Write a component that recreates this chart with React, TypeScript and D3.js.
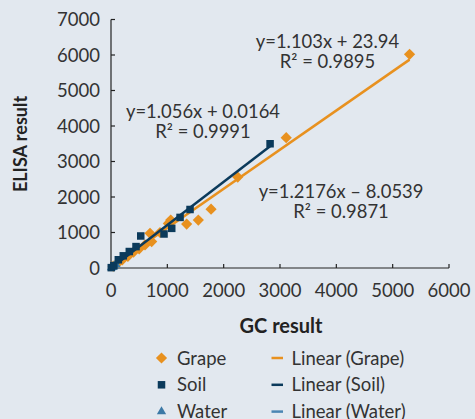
import React, { useEffect } from "react";
import * as d3 from "d3";

const grapeGC = [40, 120, 200, 300, 400, 500, 604, 693, 722, 870, 1018, 1060, 1343, 1550, 1776, 2250, 3110, 5300];
const grapeELISA = [50, 140, 230, 330, 450, 540, 650, 978, 743, 1000, 1257, 1350, 1237, 1350, 1656, 2560, 3670, 6020];
const soilGC = [5, 50, 130, 218, 325, 444, 528, 941, 1078, 1226, 1403, 2824];
const soilELISA = [10, 64, 232, 343, 464, 603, 902, 958, 1117, 1425, 1648, 3500];
const waterGC = [10, 25, 40, 60, 90];
const waterELISA = [12, 26, 43, 63, 95];

// regression [slope, intercept]
const grapeFit = [1.103, 23.94];
const soilFit = [1.2176, -8.0539];
const waterFit = [1.056, 0.0164];

const xTicks = [0, 1000, 2000, 3000, 4000, 5000, 6000];
const yTicks = [0, 1000, 2000, 3000, 4000, 5000, 6000, 7000];

const annotations = [
  { l1: "y=1.103x + 23.94", l2: "R\u00b2 = 0.9895", x: 3843, y: 6197 },
  { l1: "y=1.056x + 0.0164", l2: "R\u00b2 = 0.9991", x: 1633, y: 4225 },
  { l1: "y=1.2176x \u2013 8.0539", l2: "R\u00b2 = 0.9871", x: 4083, y: 1972 },
];

const ORANGE = "#e8911f";
const NAVY = "#0b3a5b";
const WATER = "#3c79a6";
const WATERLINE = "#4b86b3";
const TEXT = "#333333";
const BG = "#e2e8ef";
const FONT = "Lato, 'Open Sans', sans-serif";

export default function App() {
  useEffect(() => {
    document.body.style.margin = "0";
    document.body.style.background = BG;
  }, []);

  const W = 475, H = 419;
  const x = d3.scaleLinear().domain([0, 6000]).range([111, 449]);
  const y = d3.scaleLinear().domain([0, 7000]).range([268, 19.5]);
  const line = d3.line<[number, number]>().x(d => x(d[0])).y(d => y(d[1]));

  const fitLine = (fit: number[], xs: number[]) => {
    const x0 = d3.min(xs)!, x1 = d3.max(xs)!;
    return line([[x0, fit[0] * x0 + fit[1]], [x1, fit[0] * x1 + fit[1]]]);
  };

  const diamond = d3.symbol().type(d3.symbolDiamond2).size(80)();
  const square = d3.symbol().type(d3.symbolSquare2).size(72)();
  const tri = d3.symbol().type(d3.symbolTriangle2).size(62)();

  const legendRows = [
    { name: "Grape", shape: diamond, color: ORANGE, lname: "Linear (Grape)", lcolor: ORANGE },
    { name: "Soil", shape: square, color: NAVY, lname: "Linear (Soil)", lcolor: NAVY },
    { name: "Water", shape: tri, color: WATER, lname: "Linear (Water)", lcolor: WATERLINE },
  ];

  return (
    <svg width={W} height={H} style={{ display: "block", background: BG }} fontFamily={FONT}>
      <rect x={0} y={0} width={W} height={H} fill={BG} />
      {/* axes */}
      <line x1={x(0)} x2={x(0)} y1={y(0)} y2={y(7000)} stroke="#222" strokeWidth={1.2} />
      <line x1={x(0)} x2={x(6000)} y1={y(0)} y2={y(0)} stroke="#222" strokeWidth={1.2} />
      {yTicks.map(t => (
        <g key={"y" + t}>
          <line x1={x(0)} x2={x(0) + 4} y1={y(t)} y2={y(t)} stroke="#222" strokeWidth={1.2} />
          <text x={100} y={y(t)} dy="0.36em" textAnchor="end" fontSize={18.5} fill={TEXT}>{t}</text>
        </g>
      ))}
      {xTicks.map(t => (
        <g key={"x" + t}>
          <line x1={x(t)} x2={x(t)} y1={y(0)} y2={y(0) - 4} stroke="#222" strokeWidth={1.2} />
          <text x={x(t)} y={297} textAnchor="middle" fontSize={18.5} fill={TEXT}>{t}</text>
        </g>
      ))}
      <text x={281} y={333} textAnchor="middle" fontSize={20} fontWeight="bold" fill="#222">GC result</text>
      <text transform={`translate(27,144) rotate(-90)`} textAnchor="middle" fontSize={18} fontWeight="bold" fill="#222">ELISA result</text>

      {/* fit lines */}
      <path d={fitLine(waterFit, waterGC)!} stroke={WATERLINE} strokeWidth={2.5} fill="none" />
      <path d={fitLine(grapeFit, grapeGC)!} stroke={ORANGE} strokeWidth={2.5} fill="none" />

      {/* points */}
      {grapeGC.map((g, i) => (
        <path key={"g" + i} d={diamond!} transform={`translate(${x(g)},${y(grapeELISA[i])})`} fill={ORANGE} />
      ))}
      <path d={fitLine(soilFit, soilGC)!} stroke={NAVY} strokeWidth={2.5} fill="none" />
      {waterGC.map((g, i) => (
        <path key={"w" + i} d={tri!} transform={`translate(${x(g)},${y(waterELISA[i])})`} fill={WATER} />
      ))}
      {soilGC.map((g, i) => (
        <path key={"s" + i} d={square!} transform={`translate(${x(g)},${y(soilELISA[i])})`} fill={NAVY} />
      ))}

      {/* annotations */}
      {annotations.map((a, i) => (
        <g key={"a" + i}>
          <text x={x(a.x)} y={y(a.y)} textAnchor="middle" fontSize={18.4} fill={TEXT}>{a.l1}</text>
          <text x={x(a.x)} y={y(a.y) + 20} textAnchor="middle" fontSize={18.4} fill={TEXT}>{a.l2}</text>
        </g>
      ))}

      {/* legend */}
      {legendRows.map((r, i) => {
        const cy = 358 + i * 26.8;
        return (
          <g key={"l" + i}>
            <path d={r.shape!} transform={`translate(161.5,${cy})`} fill={r.color} />
            <text x={177} y={cy} dy="0.36em" fontSize={18.5} fill={TEXT}>{r.name}</text>
            <line x1={271.5} x2={283} y1={cy} y2={cy} stroke={r.lcolor} strokeWidth={2.5} />
            <text x={291.5} y={cy} dy="0.36em" fontSize={18.5} fill={TEXT}>{r.lname}</text>
          </g>
        );
      })}
    </svg>
  );
}
